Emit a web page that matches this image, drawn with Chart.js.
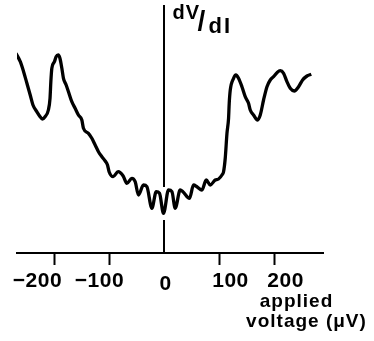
<!DOCTYPE html>
<html>
<head>
<meta charset="utf-8">
<script src="https://cdn.jsdelivr.net/npm/chart.js@4/dist/chart.umd.min.js"></script>
<style>
  html, body { margin: 0; padding: 0; background: #fff; }
  #wrap { width: 374px; height: 341px; position: relative; }
</style>
</head>
<body>
<div id="wrap"><canvas id="c"></canvas></div>
<script>
// Differential resistance dV/dI (arbitrary units above baseline) vs applied voltage (μV)
const voltage = [
  -270, -262, -256, -250, -244, -239, -232, -226, -222, -217, -211, -208, -206.5, -204.7,
  -200, -197, -193, -190, -186.5, -183.6, -178.7, -174.5, -168.4, -162.4, -156.4, -150.2,
  -147.3, -138.2, -132, -126, -120, -113.8, -107.8, -103.6, -100.5, -93.3, -84.2, -75.1,
  -68.4, -59.3, -53.3, -47.3, -38.2, -32, -22.9, -15.1, -9.1, -1.8, 7.3, 13.5, 19.5,
  28.5, 33.5, 45.5, 52.7, 58.9, 68, 75.8, 83.1, 92.2, 98.2, 104.4, 107.3, 110.4, 113.5,
  116.4, 117.6, 119.5, 125.5, 129.8, 134.5, 140.7, 146.7, 152.7, 155.8, 161.8, 169.1,
  174, 180, 186.2, 192.2, 198.2, 204.4, 210.4, 216.4, 222.5, 228.5, 235.8, 243.6, 250.9,
  258.9, 266.7
];
const dvdi = [
  199.7, 191.3, 181.3, 169.7, 158, 148, 141.3, 136.3, 134, 136.3, 143, 154.7, 171.3, 184.7,
  191.3, 196.3, 198, 194.7, 184.7, 174.7, 168, 161.3, 151.3, 144.7, 138, 133,
  124.7, 119.7, 114.7, 108, 101.3, 96.3, 92, 88, 81, 76.3, 81.3, 77,
  69.7, 74.7, 71.3, 58, 68, 66.3, 44.7, 61.3, 59.7, 39.7, 63, 61.3, 44.7,
  63, 61.3, 54.7, 68, 66.3, 63, 73, 68, 73, 74, 78, 81.3, 95, 119.7,
  134.7, 149.7, 163, 174.7, 178, 174.7, 166.3, 156.3, 149.7, 143, 138, 133,
  138, 153, 166.3, 173, 176.3, 180.3, 182.3, 179.7, 171.3, 164.7, 162, 166.3, 173,
  177, 178.7
];
const tickValues = [-200, -100, 0, 100, 200];
const tickLabels = ['\u2212200', '\u2212100', '0', '100', '200'];
const xTitleLines = ['applied', 'voltage (\u03bcV)'];

const points = voltage.map((v, i) => ({ x: v, y: dvdi[i] }));

const FONT = '"Liberation Sans", Arial, sans-serif';
// hand-set label placement relative to each tick: [dx, dy]
const labelNudge = [[-17, 0], [-10, 0], [1, 3], [11, 0], [11, 0]];

// Axis decorations: gap in the vertical axis line, tick labels, titles
const decorations = {
  id: 'decorations',
  beforeDatasetsDraw(chart) {
    const { ctx, scales: { x, y } } = chart;
    const x0 = x.getPixelForValue(0);
    const yTop = y.getPixelForValue(66);
    const yBot = y.getPixelForValue(33);
    ctx.save();
    ctx.fillStyle = '#fff';
    ctx.fillRect(x0 - 2, yTop, 4, yBot - yTop);
    ctx.restore();
  },
  afterDraw(chart) {
    const { ctx, scales: { x, y } } = chart;
    const x0 = x.getPixelForValue(0);
    const base = y.getPixelForValue(0);
    ctx.save();
    ctx.fillStyle = '#000';
    ctx.textBaseline = 'alphabetic';
    ctx.textAlign = 'center';
    ctx.font = 'bold 21px ' + FONT;
    ctx.letterSpacing = '0.5px';
    tickValues.forEach((v, i) => {
      const px = x.getPixelForValue(v);
      ctx.fillText(tickLabels[i], px + labelNudge[i][0], base + 34 + labelNudge[i][1]);
    });
    ctx.font = 'bold 19px ' + FONT;
    ctx.letterSpacing = '1px';
    ctx.fillText(xTitleLines[0], x0 + 132, base + 54);
    ctx.fillText(xTitleLines[1], x0 + 142, base + 74);

    // dV/dI label beside the top of the vertical axis
    ctx.textAlign = 'left';
    ctx.letterSpacing = '1px';
    ctx.font = 'bold 20px ' + FONT;
    ctx.fillText('dV', x0 + 8, 19);
    ctx.letterSpacing = '0px';
    ctx.font = 'bold 28px ' + FONT;
    ctx.fillText('/', x0 + 33, 30);
    ctx.letterSpacing = '2px';
    ctx.font = 'bold 22px ' + FONT;
    ctx.fillText('dI', x0 + 44, 33);
    ctx.restore();
  }
};

new Chart(document.getElementById('c'), {
  type: 'line',
  data: {
    datasets: [{
      data: points,
      borderColor: '#000',
      borderWidth: 3.3,
      pointRadius: 0,
      cubicInterpolationMode: 'monotone',
      fill: false
    }]
  },
  options: {
    responsive: true,
    maintainAspectRatio: false,
    animation: false,
    events: [],
    layout: { padding: { left: 17, right: 51, top: 6, bottom: 76 } },
    plugins: { legend: { display: false }, tooltip: { enabled: false } },
    scales: {
      x: {
        type: 'linear',
        min: -268,
        max: 288,
        afterBuildTicks: (s) => { s.ticks = tickValues.map(v => ({ value: v })); },
        ticks: { display: false },
        grid: {
          display: true,
          drawOnChartArea: false,
          drawTicks: true,
          tickLength: 12,
          tickWidth: 2,
          tickColor: (c) => (c.tick && c.tick.value === 0) ? 'rgba(0,0,0,0)' : '#000'
        },
        border: { display: true, color: '#000', width: 2 }
      },
      y: {
        type: 'linear',
        position: { x: 0 },
        min: 0,
        max: 247,
        ticks: { display: false },
        grid: { display: false },
        border: { display: true, color: '#000', width: 2 }
      }
    }
  },
  plugins: [decorations]
});
</script>
</body>
</html>
